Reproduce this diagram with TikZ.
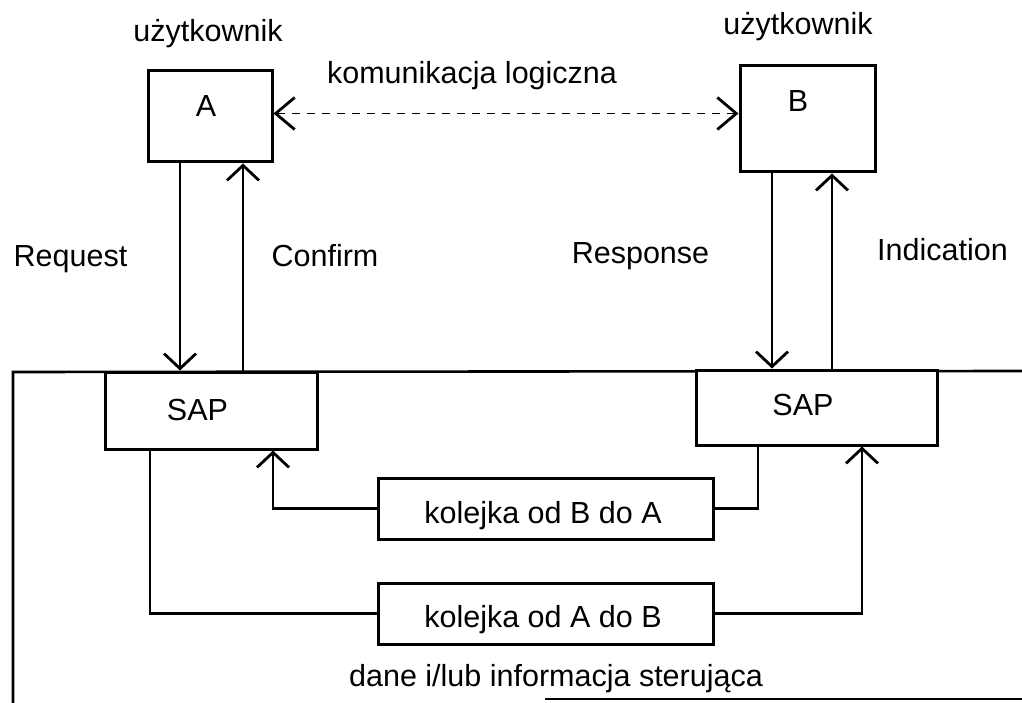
\documentclass[tikz,border=0pt]{standalone}
\usepackage{fontspec}
\setmainfont{Liberation Sans}
\usetikzlibrary{arrows.meta}
\begin{document}
\begin{tikzpicture}[x=1pt,y=-1pt,
  box/.style={draw,line width=3pt,inner sep=0pt},
  txt/.style={inner sep=0pt,anchor=base,font=\fontsize{30.5}{36}\selectfont},
  conn/.style={line width=2.6pt},
  arr/.style={line width=2.6pt,-{Straight Barb[length=15pt,width=32pt,line width=2.8pt]}},
  darr/.style={line width=1.6pt,dash pattern=on 8pt off 7pt,
    {Straight Barb[length=19pt,width=32pt,line width=2.8pt]}-{Straight Barb[length=19pt,width=32pt,line width=2.8pt]}}
]
\useasboundingbox (0,0) rectangle (1022,703);
\fill[white] (0,0) rectangle (1022,703);

% frame
\coordinate (frTR) at (1022,371);
\coordinate (frTL) at (13,372);
\coordinate (frBL) at (13,703);
\coordinate (bbL) at (545,699);
\coordinate (bbR) at (1022,699);
\draw[conn] (frTR) -- (frTL) -- (frBL);
\draw[conn] (bbL) -- (bbR);

% user boxes
\node[box,minimum width=124pt,minimum height=91pt] (A) at (210,116.5) {};
\node[box,minimum width=135pt,minimum height=106pt] (B) at (807.5,119) {};
\node[txt] (At) at (206,117) {A};
\node[txt] (Bt) at (798,112) {B};
\node[txt] (uA) at (208,42) {użytkownik};
\node[txt] (uB) at (798,35) {użytkownik};
\node[txt] (kl) at (472,84) {komunikacja logiczna};

% SAP boxes
\node[box,fill=white,minimum width=212pt,minimum height=77pt] (SAPA) at (211,410.5) {};
\node[box,fill=white,minimum width=241pt,minimum height=75pt] (SAPB) at (816.5,407.5) {};
\node[txt] (SAPAt) at (197.5,420) {SAP};
\node[txt] (SAPBt) at (803,415) {SAP};

% queue boxes
\node[box,minimum width=335pt,minimum height=61pt] (BA) at (545.5,508.5) {};
\node[box,minimum width=335pt,minimum height=61pt] (AB) at (545.5,613.5) {};
\node[txt] (BAt) at (543,523) {kolejka od B do A};
\node[txt] (ABt) at (543,627) {kolejka od A do B};
\node[txt] (dane) at (556,686) {dane i/lub informacja sterująca};

% service primitive labels
\node[txt] (req) at (70.5,267) {Request};
\node[txt] (conf) at (325,267) {Confirm};
\node[txt] (resp) at (640.5,263) {Response};
\node[txt] (ind) at (942.5,261) {Indication};

% logical communication
\draw[darr] ([yshift=3pt]A.east) -- ([yshift=3pt]A.east -| B.west);

% primitives
\draw[arr] ([xshift=-30pt]A.south) -- ([xshift=-30pt]A.south |- SAPA.north);
\draw[arr] ([xshift=33pt]A.south |- SAPA.north) -- ([xshift=33pt]A.south);
\draw[arr] ([xshift=-35.5pt]B.south) -- ([xshift=-35.5pt]B.south |- SAPB.north);
\draw[arr] ([xshift=24.5pt]B.south |- SAPB.north) -- ([xshift=24.5pt]B.south);

% queues
\draw[conn] ([xshift=-61pt]SAPA.south) |- (AB.west);
\draw[arr] (AB.east) -| ([xshift=45.5pt]SAPB.south);
\draw[conn] ([xshift=-58.5pt]SAPB.south) |- (BA.east);
\draw[arr] (BA.west) -| ([xshift=62pt]SAPA.south);
\end{tikzpicture}
\end{document}
